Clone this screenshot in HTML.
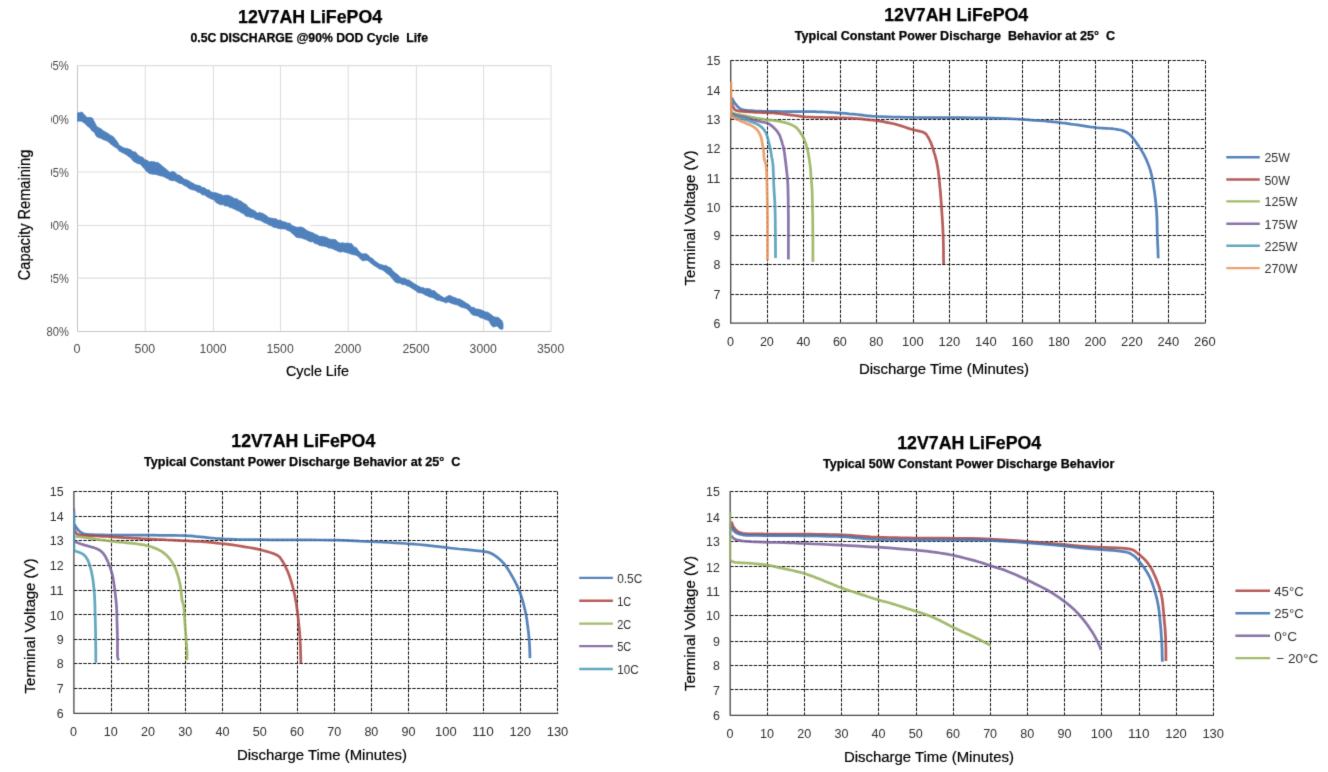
<!DOCTYPE html>
<html><head><meta charset="utf-8"><title>12V7AH LiFePO4</title>
<style>
html,body{margin:0;padding:0;background:#fff;}
body{width:1328px;height:772px;overflow:hidden;}
svg{display:block;font-family:'Liberation Sans', sans-serif;}
</style></head><body>
<svg width="1328" height="772" viewBox="0 0 1328 772">
<defs><filter id="soft" color-interpolation-filters="sRGB" x="0" y="0" width="1328" height="772" filterUnits="userSpaceOnUse"><feConvolveMatrix order="3" kernelMatrix="0.012 0.086 0.012 0.086 0.608 0.086 0.012 0.086 0.012" edgeMode="duplicate" preserveAlpha="true"/></filter></defs>
<rect width="1328" height="772" fill="#fff"/>
<g filter="url(#soft)">
<rect width="1328" height="772" fill="#fff"/>
<g id="chart1">
<text x="310.10" y="23.00" font-size="18" text-anchor="middle" fill="#000" font-weight="bold" textLength="144.00" lengthAdjust="spacingAndGlyphs" stroke="#000" stroke-width="0.25" >12V7AH LiFePO4</text>
<text x="309.20" y="42.00" font-size="12.5" text-anchor="middle" fill="#000" font-weight="bold" textLength="237.50" lengthAdjust="spacingAndGlyphs" stroke="#000" stroke-width="0.25" xml:space="preserve">0.5C DISCHARGE @90% DOD Cycle&#160;&#160;Life</text>
<line x1="77.50" y1="65.6" x2="77.50" y2="331.4" stroke="#c6c6c6" stroke-width="1.05"/>
<line x1="145.30" y1="65.6" x2="145.30" y2="331.4" stroke="#dddddd" stroke-width="1.05"/>
<line x1="213.40" y1="65.6" x2="213.40" y2="331.4" stroke="#dddddd" stroke-width="1.05"/>
<line x1="280.50" y1="65.6" x2="280.50" y2="331.4" stroke="#dddddd" stroke-width="1.05"/>
<line x1="348.20" y1="65.6" x2="348.20" y2="331.4" stroke="#dddddd" stroke-width="1.05"/>
<line x1="416.40" y1="65.6" x2="416.40" y2="331.4" stroke="#dddddd" stroke-width="1.05"/>
<line x1="483.60" y1="65.6" x2="483.60" y2="331.4" stroke="#dddddd" stroke-width="1.05"/>
<line x1="551.00" y1="65.6" x2="551.00" y2="331.4" stroke="#dddddd" stroke-width="1.05"/>
<line x1="77.5" y1="65.60" x2="551.05" y2="65.60" stroke="#dddddd" stroke-width="1.05"/>
<line x1="77.5" y1="119.00" x2="551.05" y2="119.00" stroke="#dddddd" stroke-width="1.05"/>
<line x1="77.5" y1="172.00" x2="551.05" y2="172.00" stroke="#dddddd" stroke-width="1.05"/>
<line x1="77.5" y1="225.40" x2="551.05" y2="225.40" stroke="#dddddd" stroke-width="1.05"/>
<line x1="77.5" y1="278.10" x2="551.05" y2="278.10" stroke="#dddddd" stroke-width="1.05"/>
<line x1="77.5" y1="331.40" x2="551.05" y2="331.40" stroke="#c6c6c6" stroke-width="1.05"/>
<rect x="290" y="223.6" width="20" height="3.2" fill="#fff"/>
<clipPath id="c1clip"><rect x="51" y="50" width="30" height="262"/></clipPath>
<g clip-path="url(#c1clip)">
<text x="68.80" y="70.40" font-size="12.6" text-anchor="end" fill="#4a4a4a" textLength="29.00" lengthAdjust="spacingAndGlyphs" >105%</text>
<text x="68.80" y="123.80" font-size="12.6" text-anchor="end" fill="#4a4a4a" textLength="29.00" lengthAdjust="spacingAndGlyphs" >100%</text>
<text x="68.80" y="176.80" font-size="12.6" text-anchor="end" fill="#4a4a4a" textLength="22.30" lengthAdjust="spacingAndGlyphs" >95%</text>
<text x="68.80" y="230.20" font-size="12.6" text-anchor="end" fill="#4a4a4a" textLength="22.30" lengthAdjust="spacingAndGlyphs" >90%</text>
<text x="68.80" y="282.90" font-size="12.6" text-anchor="end" fill="#4a4a4a" textLength="22.30" lengthAdjust="spacingAndGlyphs" >85%</text>
</g>
<text x="68.80" y="336.20" font-size="12.6" text-anchor="end" fill="#4a4a4a" textLength="22.30" lengthAdjust="spacingAndGlyphs" >80%</text>
<text x="77.10" y="352.60" font-size="12.8" text-anchor="middle" fill="#4a4a4a" textLength="7.00" lengthAdjust="spacingAndGlyphs" >0</text>
<text x="144.90" y="352.60" font-size="12.8" text-anchor="middle" fill="#4a4a4a" textLength="20.60" lengthAdjust="spacingAndGlyphs" >500</text>
<text x="213.00" y="352.60" font-size="12.8" text-anchor="middle" fill="#4a4a4a" textLength="27.20" lengthAdjust="spacingAndGlyphs" >1000</text>
<text x="280.10" y="352.60" font-size="12.8" text-anchor="middle" fill="#4a4a4a" textLength="27.20" lengthAdjust="spacingAndGlyphs" >1500</text>
<text x="347.80" y="352.60" font-size="12.8" text-anchor="middle" fill="#4a4a4a" textLength="27.20" lengthAdjust="spacingAndGlyphs" >2000</text>
<text x="416.00" y="352.60" font-size="12.8" text-anchor="middle" fill="#4a4a4a" textLength="27.20" lengthAdjust="spacingAndGlyphs" >2500</text>
<text x="483.20" y="352.60" font-size="12.8" text-anchor="middle" fill="#4a4a4a" textLength="27.20" lengthAdjust="spacingAndGlyphs" >3000</text>
<text x="550.60" y="352.60" font-size="12.8" text-anchor="middle" fill="#4a4a4a" textLength="27.20" lengthAdjust="spacingAndGlyphs" >3500</text>
<text x="317.50" y="376.00" font-size="15" text-anchor="middle" fill="#000" textLength="63.00" lengthAdjust="spacingAndGlyphs" stroke="#000" stroke-width="0.2" >Cycle Life</text>
<text x="30.00" y="215.00" font-size="16" text-anchor="middle" fill="#000" textLength="130.50" lengthAdjust="spacingAndGlyphs" transform="rotate(-90 30.00 215.00)" stroke="#000" stroke-width="0.2" >Capacity Remaining</text>
<polygon points="77.5,113.0 78.7,112.6 79.8,112.7 81.0,112.2 82.1,112.1 83.3,113.6 84.4,114.7 85.6,116.1 86.7,117.3 87.9,117.6 89.0,117.3 90.2,117.6 91.3,117.8 92.5,118.1 93.6,120.6 94.8,122.6 95.9,124.9 97.1,126.9 98.2,127.3 99.4,128.1 100.5,128.4 101.7,129.2 102.8,130.4 104.0,131.2 105.1,131.7 106.3,132.5 107.4,133.1 108.6,133.8 109.7,134.8 110.9,135.4 112.0,136.1 113.2,136.6 114.3,137.9 115.5,139.5 116.6,141.0 117.8,142.6 118.9,144.8 120.1,145.7 121.2,146.3 122.4,147.2 123.5,147.4 124.7,148.2 125.8,148.3 127.0,148.4 128.1,149.0 129.3,149.1 130.4,149.6 131.6,150.4 132.7,151.3 133.9,152.1 135.0,151.8 136.2,152.6 137.3,154.4 138.5,155.3 139.6,156.1 140.8,157.0 141.9,156.8 143.1,157.6 144.2,159.1 145.4,159.9 146.5,160.0 147.7,160.4 148.8,161.7 150.0,162.0 151.1,161.4 152.3,161.7 153.4,161.7 154.6,161.7 155.7,162.4 156.9,162.4 158.0,162.5 159.2,163.6 160.3,164.3 161.5,165.3 162.6,166.3 163.8,167.3 164.9,168.2 166.1,169.1 167.2,170.1 168.4,171.0 169.5,172.1 170.7,172.2 171.8,171.6 173.0,171.7 174.1,171.8 175.3,172.6 176.4,174.1 177.6,174.9 178.7,174.8 179.9,175.6 181.0,176.4 182.2,177.1 183.3,178.5 184.5,179.2 185.6,179.3 186.8,179.9 187.9,180.3 189.1,181.0 190.2,181.8 191.4,182.4 192.5,183.0 193.7,183.4 194.8,184.5 196.0,185.0 197.1,185.0 198.3,185.5 199.4,185.5 200.6,186.0 201.7,187.2 202.9,187.8 204.0,187.6 205.2,188.2 206.3,189.3 207.5,189.8 208.6,189.8 209.8,190.4 210.9,191.8 212.1,192.3 213.2,192.4 214.4,192.7 215.5,192.6 216.7,193.0 217.8,193.5 219.0,193.9 220.1,194.2 221.3,194.6 222.4,195.3 223.6,195.7 224.7,195.3 225.9,195.3 227.0,195.2 228.2,195.2 229.3,195.8 230.5,196.2 231.6,196.8 232.8,197.4 233.9,198.3 235.1,198.9 236.2,198.5 237.4,199.0 238.5,200.1 239.7,200.7 240.8,201.0 242.0,201.7 243.1,202.8 244.3,203.5 245.4,204.0 246.6,204.8 247.7,206.5 248.9,207.6 250.0,208.3 251.2,209.3 252.3,209.5 253.5,210.2 254.6,210.8 255.8,211.5 256.9,213.0 258.1,213.1 259.2,212.5 260.4,212.6 261.5,213.2 262.7,213.3 263.8,214.0 265.0,214.8 266.1,215.4 267.3,216.2 268.4,217.5 269.6,217.8 270.7,218.0 271.9,218.2 273.0,218.5 274.2,218.8 275.3,218.6 276.5,219.0 277.6,219.9 278.8,220.3 279.9,220.1 281.1,220.5 282.2,221.3 283.4,221.7 284.5,221.8 285.7,222.3 286.8,222.7 288.0,223.2 289.1,223.1 290.3,223.5 291.4,225.1 292.6,225.7 293.7,226.0 294.9,226.6 296.0,227.2 297.2,227.3 298.3,227.1 299.5,227.2 300.6,226.9 301.8,227.2 302.9,227.7 304.0,228.2 305.2,229.3 306.3,229.9 307.5,230.7 308.6,231.3 309.8,231.8 310.9,232.3 312.1,232.5 313.2,233.1 314.4,233.7 315.5,234.3 316.7,234.7 317.8,235.3 319.0,236.3 320.1,236.6 321.3,236.3 322.4,236.5 323.6,236.6 324.7,237.0 325.9,237.2 327.0,237.6 328.2,238.6 329.3,238.9 330.5,239.2 331.6,239.4 332.8,239.3 333.9,239.6 335.1,239.5 336.2,240.2 337.4,241.7 338.5,242.4 339.7,242.9 340.8,243.2 342.0,242.8 343.1,242.9 344.3,243.2 345.4,243.3 346.6,243.1 347.7,243.1 348.9,243.5 350.0,243.5 351.2,243.4 352.3,244.4 353.5,246.2 354.6,247.2 355.8,247.2 356.9,248.3 358.1,250.3 359.2,251.5 360.4,252.5 361.5,253.7 362.7,253.8 363.8,253.9 365.0,253.7 366.1,253.8 367.3,254.4 368.4,255.2 369.6,256.7 370.7,257.7 371.9,258.0 373.0,259.0 374.2,260.4 375.3,261.2 376.5,262.0 377.6,262.8 378.8,263.7 379.9,264.2 381.1,264.5 382.2,265.0 383.4,265.2 384.5,265.6 385.7,265.4 386.8,265.8 388.0,266.9 389.1,267.2 390.3,267.6 391.4,268.7 392.6,270.4 393.7,271.5 394.9,272.6 396.0,273.5 397.2,274.2 398.3,275.1 399.5,276.6 400.6,277.4 401.8,277.9 402.9,278.4 404.1,277.9 405.2,278.4 406.4,279.4 407.5,279.9 408.7,280.0 409.8,280.5 411.0,281.5 412.1,282.2 413.3,283.0 414.4,283.8 415.6,284.3 416.7,285.1 417.9,285.8 419.0,286.4 420.2,286.9 421.3,287.5 422.5,287.6 423.6,287.7 424.8,288.6 425.9,288.7 427.1,288.4 428.2,288.5 429.4,288.8 430.5,289.2 431.7,290.3 432.8,290.7 434.0,290.5 435.1,291.3 436.3,292.6 437.4,293.5 438.6,294.2 439.7,294.9 440.9,296.0 442.0,296.6 443.2,297.3 444.3,298.0 445.5,297.3 446.6,296.8 447.8,296.1 448.9,295.6 450.1,295.6 451.2,296.0 452.4,296.7 453.5,297.1 454.7,297.5 455.8,297.9 457.0,298.5 458.1,299.1 459.3,298.8 460.4,299.4 461.6,300.1 462.7,300.6 463.9,301.6 465.0,302.2 466.2,303.0 467.3,303.8 468.5,304.1 469.6,305.1 470.8,306.6 471.9,307.5 473.1,307.2 474.2,307.5 475.4,308.7 476.5,309.0 477.7,308.9 478.8,309.3 480.0,309.6 481.1,310.0 482.3,310.4 483.4,310.8 484.6,311.6 485.7,312.1 486.9,311.9 488.0,312.4 489.2,313.2 490.3,313.9 491.5,314.8 492.6,315.9 493.8,316.8 494.9,317.0 496.1,317.2 497.2,317.3 498.4,317.5 499.5,318.4 500.7,319.4 501.8,320.5 503.0,323.6 503.0,328.8 501.8,329.3 500.7,329.1 499.5,328.8 498.4,327.2 497.2,326.1 496.1,326.2 494.9,326.5 493.8,327.1 492.6,326.4 491.5,325.4 490.3,323.6 489.2,321.3 488.0,320.3 486.9,320.1 485.7,319.6 484.6,319.3 483.4,318.6 482.3,318.1 481.1,318.1 480.0,317.5 478.8,316.6 477.7,316.0 476.5,315.9 475.4,315.5 474.2,315.4 473.1,314.9 471.9,314.5 470.8,313.3 469.6,311.6 468.5,310.4 467.3,309.4 466.2,308.5 465.0,308.2 463.9,307.8 462.7,307.7 461.6,307.3 460.4,306.7 459.3,306.2 458.1,305.3 457.0,304.8 455.8,304.8 454.7,304.3 453.5,304.1 452.4,303.7 451.2,303.2 450.1,302.8 448.9,302.1 447.8,302.1 446.6,302.8 445.5,302.8 444.3,302.1 443.2,301.7 442.0,301.3 440.9,301.0 439.7,300.6 438.6,300.2 437.4,300.4 436.3,299.8 435.1,298.9 434.0,298.3 432.8,297.7 431.7,297.2 430.5,297.4 429.4,296.9 428.2,296.3 427.1,295.8 425.9,295.4 424.8,294.8 423.6,294.1 422.5,293.5 421.3,293.1 420.2,292.9 419.0,292.8 417.9,292.5 416.7,291.5 415.6,290.6 414.4,289.9 413.3,289.0 412.1,288.4 411.0,287.7 409.8,286.9 408.7,286.3 407.5,286.1 406.4,285.5 405.2,284.7 404.1,284.5 402.9,284.5 401.8,284.3 400.6,283.4 399.5,282.9 398.3,283.3 397.2,282.8 396.0,282.3 394.9,281.8 393.7,280.3 392.6,279.0 391.4,277.6 390.3,276.3 389.1,275.0 388.0,274.1 386.8,273.5 385.7,272.6 384.5,271.4 383.4,270.6 382.2,269.9 381.1,269.2 379.9,269.3 378.8,268.6 377.6,267.7 376.5,267.1 375.3,266.3 374.2,265.7 373.0,264.7 371.9,263.8 370.7,263.1 369.6,262.1 368.4,261.0 367.3,260.3 366.1,260.3 365.0,260.2 363.8,260.8 362.7,260.7 361.5,260.0 360.4,259.1 359.2,257.6 358.1,256.6 356.9,255.7 355.8,255.1 354.6,255.1 353.5,254.6 352.3,254.6 351.2,254.2 350.0,253.5 348.9,253.3 347.7,252.9 346.6,252.7 345.4,252.3 344.3,252.1 343.1,251.8 342.0,251.5 340.8,252.2 339.7,251.9 338.5,251.4 337.4,251.1 336.2,250.3 335.1,250.0 333.9,249.3 332.8,248.9 331.6,248.5 330.5,248.1 329.3,248.2 328.2,247.8 327.0,246.9 325.9,246.6 324.7,246.5 323.6,246.1 322.4,246.1 321.3,245.9 320.1,245.4 319.0,245.2 317.8,244.4 316.7,243.8 315.5,243.8 314.4,243.2 313.2,241.9 312.1,241.4 310.9,242.1 309.8,241.7 308.6,240.9 307.5,240.6 306.3,239.8 305.2,239.2 304.0,239.1 302.9,238.5 301.8,238.1 300.6,237.9 299.5,237.8 298.3,237.7 297.2,237.3 296.0,237.2 294.9,235.8 293.7,234.6 292.6,234.0 291.4,232.8 290.3,231.5 289.1,231.1 288.0,230.5 286.8,230.1 285.7,229.3 284.5,228.9 283.4,228.9 282.2,228.8 281.1,228.9 279.9,228.7 278.8,228.6 277.6,228.3 276.5,227.8 275.3,227.5 274.2,227.4 273.0,227.0 271.9,226.2 270.7,225.6 269.6,225.3 268.4,224.7 267.3,223.8 266.1,223.2 265.0,223.1 263.8,222.5 262.7,221.6 261.5,221.1 260.4,220.6 259.2,220.1 258.1,220.0 256.9,219.6 255.8,219.2 254.6,218.8 253.5,217.5 252.3,217.2 251.2,217.5 250.0,217.1 248.9,216.8 247.7,216.5 246.6,216.4 245.4,215.9 244.3,214.3 243.1,213.6 242.0,213.2 240.8,212.5 239.7,211.6 238.5,211.0 237.4,210.7 236.2,210.1 235.1,209.5 233.9,208.9 232.8,208.4 231.6,207.8 230.5,207.8 229.3,207.3 228.2,206.3 227.0,205.9 225.9,206.1 224.7,205.8 223.6,204.9 222.4,204.6 221.3,204.9 220.1,204.5 219.0,204.1 217.8,203.4 216.7,202.9 215.5,202.1 214.4,200.3 213.2,199.5 212.1,199.3 210.9,198.7 209.8,198.3 208.6,197.7 207.5,197.0 206.3,196.5 205.2,195.2 204.0,194.8 202.9,195.0 201.7,194.5 200.6,193.0 199.4,192.4 198.3,192.5 197.1,191.8 196.0,190.8 194.8,190.5 193.7,190.1 192.5,189.8 191.4,189.6 190.2,189.1 189.1,188.5 187.9,187.8 186.8,186.7 185.6,186.1 184.5,185.7 183.3,184.9 182.2,184.1 181.0,183.4 179.9,183.5 178.7,183.0 177.6,182.2 176.4,181.7 175.3,181.0 174.1,180.5 173.0,180.8 171.8,180.6 170.7,180.3 169.5,180.0 168.4,179.1 167.2,178.4 166.1,177.9 164.9,177.2 163.8,176.8 162.6,176.3 161.5,176.1 160.3,175.9 159.2,175.4 158.0,175.1 156.9,174.7 155.7,174.5 154.6,174.3 153.4,174.2 152.3,174.2 151.1,173.8 150.0,173.8 148.8,173.2 147.7,172.1 146.5,171.5 145.4,169.9 144.2,168.5 143.1,167.4 141.9,165.9 140.8,164.4 139.6,164.1 138.5,163.8 137.3,163.5 136.2,162.8 135.0,162.1 133.9,161.7 132.7,160.5 131.6,158.9 130.4,157.8 129.3,156.9 128.1,156.2 127.0,155.2 125.8,154.5 124.7,153.9 123.5,153.1 122.4,152.8 121.2,152.0 120.1,151.5 118.9,150.7 117.8,149.0 116.6,148.1 115.5,147.6 114.3,146.7 113.2,145.8 112.0,144.9 110.9,144.2 109.7,143.2 108.6,141.9 107.4,141.3 106.3,140.7 105.1,140.3 104.0,139.8 102.8,139.4 101.7,138.8 100.5,138.1 99.4,138.0 98.2,137.3 97.1,137.0 95.9,135.6 94.8,133.2 93.6,131.7 92.5,131.2 91.3,130.0 90.2,128.3 89.0,127.2 87.9,126.6 86.7,125.4 85.6,124.1 84.4,123.2 83.3,122.4 82.1,121.6 81.0,121.1 79.8,121.1 78.7,121.2 77.5,121.2" fill="#4f81bd" stroke="#4f81bd" stroke-width="0.8" stroke-linejoin="round"/>
</g>
<g id="chart2">
<line x1="767.5" y1="60.60" x2="767.5" y2="323.00" stroke="#101010" stroke-width="1" stroke-dasharray="3.4 1.3"/>
<line x1="803.5" y1="60.60" x2="803.5" y2="323.00" stroke="#101010" stroke-width="1" stroke-dasharray="3.4 1.3"/>
<line x1="840.5" y1="60.60" x2="840.5" y2="323.00" stroke="#101010" stroke-width="1" stroke-dasharray="3.4 1.3"/>
<line x1="876.5" y1="60.60" x2="876.5" y2="323.00" stroke="#101010" stroke-width="1" stroke-dasharray="3.4 1.3"/>
<line x1="913.5" y1="60.60" x2="913.5" y2="323.00" stroke="#101010" stroke-width="1" stroke-dasharray="3.4 1.3"/>
<line x1="949.5" y1="60.60" x2="949.5" y2="323.00" stroke="#101010" stroke-width="1" stroke-dasharray="3.4 1.3"/>
<line x1="986.5" y1="60.60" x2="986.5" y2="323.00" stroke="#101010" stroke-width="1" stroke-dasharray="3.4 1.3"/>
<line x1="1022.5" y1="60.60" x2="1022.5" y2="323.00" stroke="#101010" stroke-width="1" stroke-dasharray="3.4 1.3"/>
<line x1="1059.5" y1="60.60" x2="1059.5" y2="323.00" stroke="#101010" stroke-width="1" stroke-dasharray="3.4 1.3"/>
<line x1="1095.5" y1="60.60" x2="1095.5" y2="323.00" stroke="#101010" stroke-width="1" stroke-dasharray="3.4 1.3"/>
<line x1="1132.5" y1="60.60" x2="1132.5" y2="323.00" stroke="#101010" stroke-width="1" stroke-dasharray="3.4 1.3"/>
<line x1="1168.5" y1="60.60" x2="1168.5" y2="323.00" stroke="#101010" stroke-width="1" stroke-dasharray="3.4 1.3"/>
<line x1="1205.5" y1="60.60" x2="1205.5" y2="323.00" stroke="#101010" stroke-width="1" stroke-dasharray="3.4 1.3"/>
<line x1="730.70" y1="60.5" x2="1205.10" y2="60.5" stroke="#101010" stroke-width="1" stroke-dasharray="3.4 1.3"/>
<line x1="730.70" y1="90.5" x2="1205.10" y2="90.5" stroke="#101010" stroke-width="1" stroke-dasharray="3.4 1.3"/>
<line x1="730.70" y1="119.5" x2="1205.10" y2="119.5" stroke="#101010" stroke-width="1" stroke-dasharray="3.4 1.3"/>
<line x1="730.70" y1="148.5" x2="1205.10" y2="148.5" stroke="#101010" stroke-width="1" stroke-dasharray="3.4 1.3"/>
<line x1="730.70" y1="178.5" x2="1205.10" y2="178.5" stroke="#101010" stroke-width="1" stroke-dasharray="3.4 1.3"/>
<line x1="730.70" y1="206.5" x2="1205.10" y2="206.5" stroke="#101010" stroke-width="1" stroke-dasharray="3.4 1.3"/>
<line x1="730.70" y1="235.5" x2="1205.10" y2="235.5" stroke="#101010" stroke-width="1" stroke-dasharray="3.4 1.3"/>
<line x1="730.70" y1="264.5" x2="1205.10" y2="264.5" stroke="#101010" stroke-width="1" stroke-dasharray="3.4 1.3"/>
<line x1="730.70" y1="294.5" x2="1205.10" y2="294.5" stroke="#101010" stroke-width="1" stroke-dasharray="3.4 1.3"/>
<path d="M730.70,60.10 V323.20 H1205.60" fill="none" stroke="#474747" stroke-width="1.3" stroke-linejoin="round"/>
<polyline points="731.6,97.5 731.7,97.7 731.9,98.0 732.0,98.4 732.3,98.8 732.5,99.3 732.8,99.8 733.1,100.4 733.5,101.1 733.9,101.8 734.4,102.5 734.9,103.3 735.4,104.0 736.0,104.7 736.6,105.4 737.2,106.2 737.9,106.9 738.7,107.5 739.5,108.1 740.2,108.6 740.9,109.0 741.6,109.3 742.5,109.6 743.8,109.9 745.7,110.2 748.2,110.5 751.1,110.7 754.5,110.9 758.2,111.0 762.2,111.2 766.4,111.3 771.1,111.4 776.5,111.4 782.1,111.5 787.8,111.5 793.0,111.5 797.5,111.5 801.2,111.5 804.4,111.6 807.3,111.6 809.9,111.6 812.4,111.6 815.0,111.7 817.5,111.8 819.9,111.8 822.1,111.9 824.5,112.0 827.0,112.1 830.0,112.3 833.4,112.5 837.2,112.8 841.1,113.1 845.2,113.4 849.3,113.8 853.3,114.1 857.0,114.5 860.6,114.9 864.2,115.4 868.0,115.8 872.0,116.2 876.6,116.5 881.8,116.7 887.4,116.9 893.4,117.1 899.5,117.2 905.6,117.3 911.6,117.4 917.2,117.5 922.6,117.5 927.9,117.5 933.6,117.5 939.7,117.5 946.6,117.6 954.6,117.7 963.5,117.7 973.0,117.8 982.5,117.9 991.7,118.1 1000.0,118.3 1007.7,118.6 1015.1,119.0 1022.2,119.4 1028.7,119.9 1034.7,120.3 1040.0,120.7 1044.4,121.0 1047.8,121.3 1050.7,121.6 1053.3,121.9 1055.8,122.2 1058.7,122.5 1061.8,122.9 1064.9,123.2 1068.0,123.6 1071.1,124.1 1074.2,124.5 1077.3,124.9 1080.4,125.3 1083.5,125.8 1086.6,126.3 1089.8,126.8 1092.9,127.2 1096.0,127.6 1099.2,127.9 1102.5,128.1 1105.9,128.3 1109.1,128.5 1112.0,128.7 1114.6,129.0 1116.7,129.3 1118.5,129.6 1120.0,129.8 1121.4,130.2 1122.7,130.6 1124.0,131.1 1125.3,131.7 1126.5,132.3 1127.7,133.0 1128.8,133.8 1129.9,134.7 1131.0,135.8 1132.2,137.1 1133.3,138.5 1134.5,140.0 1135.7,141.7 1136.8,143.4 1138.0,145.1 1139.2,146.9 1140.4,148.7 1141.6,150.6 1142.8,152.6 1143.9,154.6 1145.0,156.8 1146.1,159.1 1147.1,161.5 1148.1,164.0 1149.1,166.6 1150.0,169.2 1150.8,172.0 1151.5,174.9 1152.2,177.9 1152.8,180.9 1153.3,184.1 1153.8,187.3 1154.3,190.6 1154.8,193.9 1155.2,197.3 1155.6,200.8 1156.0,204.3 1156.3,207.9 1156.6,211.6 1156.8,215.5 1157.0,219.6 1157.1,223.8 1157.1,227.9 1157.2,231.7 1157.3,234.9 1157.4,237.5 1157.5,239.7 1157.6,241.5 1157.6,243.1 1157.7,244.8 1157.8,246.6 1157.9,248.7 1158.0,250.9 1158.0,253.1 1158.1,255.2 1158.2,256.9 1158.2,258.2" fill="none" stroke="#3f72b0" stroke-width="2.75" stroke-linejoin="round" stroke-linecap="butt" stroke-opacity="0.87"/>
<polyline points="731.6,102.0 731.8,102.6 732.0,103.5 732.3,104.5 732.6,105.6 733.0,106.7 733.5,107.5 733.9,108.2 734.1,108.8 734.4,109.3 734.9,109.8 735.9,110.3 737.4,110.7 739.6,111.1 742.5,111.4 745.7,111.6 749.2,111.9 752.7,112.1 756.1,112.3 759.4,112.5 762.9,112.6 766.3,112.7 769.8,112.9 773.3,113.0 776.8,113.3 780.4,113.7 784.1,114.1 787.8,114.6 791.4,115.1 794.6,115.5 797.5,115.9 799.6,116.2 801.1,116.4 802.3,116.6 803.6,116.7 805.3,116.9 807.9,117.0 811.5,117.1 816.0,117.3 820.8,117.4 825.8,117.5 830.6,117.6 834.8,117.7 838.3,117.8 841.4,117.8 844.3,117.9 847.1,118.0 850.0,118.1 853.3,118.3 857.0,118.6 860.9,118.9 864.9,119.3 869.0,119.8 872.9,120.2 876.6,120.7 880.0,121.2 883.3,121.7 886.4,122.3 889.4,122.9 892.4,123.5 895.3,124.2 898.2,125.0 901.1,125.9 903.9,126.8 906.6,127.7 909.2,128.6 911.6,129.3 913.9,129.9 916.1,130.4 918.2,130.8 920.1,131.3 921.8,131.7 923.3,132.3 924.5,132.9 925.4,133.5 926.1,134.2 926.7,134.9 927.3,135.9 928.0,137.0 928.8,138.3 929.5,139.8 930.3,141.4 931.1,143.3 931.8,145.3 932.6,147.5 933.4,150.0 934.2,152.8 935.1,155.7 935.9,158.8 936.7,161.9 937.3,165.0 937.8,168.0 938.3,170.9 938.6,173.9 939.0,177.0 939.3,180.2 939.6,183.6 939.9,187.2 940.3,190.8 940.6,194.7 940.9,198.6 941.2,202.7 941.5,206.9 941.8,211.3 942.1,215.8 942.4,220.5 942.7,225.3 942.9,230.1 943.1,234.9 943.3,240.0 943.4,245.6 943.5,251.3 943.5,256.5 943.6,260.9 943.6,264.1" fill="none" stroke="#ae4644" stroke-width="2.75" stroke-linejoin="round" stroke-linecap="butt" stroke-opacity="0.87"/>
<polyline points="731.5,112.5 731.9,112.6 732.3,112.8 732.8,113.0 733.5,113.3 734.3,113.5 735.4,113.8 736.7,114.1 738.4,114.4 740.1,114.8 742.0,115.2 743.9,115.5 745.7,115.9 747.4,116.3 749.2,116.6 750.9,117.0 752.6,117.3 754.4,117.7 756.1,118.0 757.8,118.3 759.5,118.6 761.2,118.9 763.0,119.2 764.7,119.5 766.4,119.7 768.2,119.9 769.9,120.1 771.7,120.2 773.5,120.4 775.2,120.6 776.8,120.8 778.3,121.1 779.8,121.3 781.2,121.6 782.6,122.0 783.9,122.3 785.1,122.6 786.3,122.9 787.4,123.2 788.4,123.6 789.4,123.9 790.3,124.3 791.3,124.7 792.2,125.1 793.1,125.6 794.0,126.1 794.9,126.6 795.7,127.2 796.5,127.8 797.3,128.5 798.0,129.4 798.7,130.3 799.3,131.2 800.0,132.1 800.6,133.0 801.2,133.9 801.7,134.7 802.3,135.5 802.8,136.4 803.2,137.3 803.7,138.2 804.1,139.2 804.5,140.2 804.9,141.3 805.3,142.3 805.7,143.4 806.0,144.5 806.3,145.5 806.6,146.4 806.9,147.2 807.2,148.2 807.5,149.5 807.8,151.0 808.2,153.0 808.6,155.3 809.0,157.9 809.4,160.6 809.8,163.1 810.1,165.3 810.3,167.2 810.5,168.8 810.6,170.3 810.7,171.8 810.8,173.5 810.9,175.4 811.1,177.5 811.3,179.7 811.5,182.1 811.7,184.7 811.9,187.4 812.1,190.5 812.2,193.9 812.3,197.7 812.4,201.6 812.5,205.7 812.5,209.9 812.6,214.1 812.7,218.3 812.7,222.7 812.8,227.1 812.8,231.6 812.9,235.9 812.9,240.0 812.9,244.2 812.9,248.5 812.9,252.7 812.9,256.5 812.9,259.7 812.9,262.1" fill="none" stroke="#95b158" stroke-width="2.75" stroke-linejoin="round" stroke-linecap="butt" stroke-opacity="0.87"/>
<polyline points="731.5,113.8 732.2,114.0 733.1,114.3 734.3,114.7 735.5,115.1 736.8,115.5 738.0,115.8 739.2,116.1 740.4,116.3 741.6,116.6 742.9,116.8 744.2,117.1 745.7,117.5 747.3,117.9 749.0,118.5 750.7,119.0 752.5,119.6 754.3,120.1 756.1,120.6 757.9,121.0 759.7,121.4 761.6,121.8 763.3,122.1 765.0,122.5 766.4,122.9 767.6,123.3 768.5,123.7 769.3,124.2 770.1,124.6 770.8,125.2 771.6,125.8 772.5,126.5 773.4,127.3 774.3,128.2 775.2,129.1 776.1,130.0 776.8,130.9 777.4,131.7 778.0,132.6 778.5,133.4 779.0,134.2 779.5,135.1 779.9,136.1 780.3,137.1 780.7,138.3 781.1,139.4 781.5,140.6 781.9,141.8 782.2,143.0 782.5,144.1 782.8,145.1 783.1,146.0 783.4,147.1 783.7,148.4 784.0,150.1 784.3,152.1 784.7,154.5 785.0,157.1 785.3,159.8 785.7,162.6 786.0,165.3 786.3,167.9 786.6,170.5 786.9,173.1 787.2,175.8 787.5,178.8 787.7,182.1 787.9,185.8 788.0,189.8 788.1,194.1 788.2,198.5 788.2,203.0 788.3,207.4 788.3,211.9 788.4,216.5 788.4,221.2 788.4,225.9 788.4,230.5 788.4,235.0 788.4,239.6 788.4,244.3 788.4,249.0 788.4,253.3 788.4,257.0 788.4,259.6" fill="none" stroke="#7a609b" stroke-width="2.75" stroke-linejoin="round" stroke-linecap="butt" stroke-opacity="0.87"/>
<polyline points="731.5,115.5 732.2,115.7 733.2,116.0 734.3,116.4 735.6,116.8 736.8,117.2 738.0,117.6 739.2,117.9 740.3,118.3 741.5,118.6 742.7,118.9 743.9,119.3 745.0,119.6 746.0,119.9 747.0,120.2 747.9,120.5 748.9,120.9 749.9,121.2 750.9,121.6 752.0,122.0 753.3,122.5 754.5,123.0 755.8,123.5 757.0,124.1 758.1,124.7 759.1,125.3 760.1,126.0 761.0,126.7 761.8,127.4 762.6,128.1 763.3,128.9 763.9,129.7 764.5,130.5 765.0,131.3 765.5,132.1 766.0,133.0 766.4,134.0 766.8,135.1 767.2,136.3 767.5,137.5 767.9,138.8 768.2,140.1 768.5,141.3 768.8,142.5 769.1,143.7 769.4,144.9 769.7,146.1 769.9,147.3 770.2,148.5 770.4,149.7 770.7,150.9 770.9,152.1 771.1,153.4 771.3,154.6 771.5,156.0 771.7,157.3 772.0,158.5 772.3,159.8 772.5,161.2 772.8,163.0 773.0,165.3 773.2,168.2 773.3,171.7 773.5,175.6 773.6,179.6 773.7,183.5 773.9,187.2 774.1,190.6 774.3,193.8 774.5,196.9 774.7,200.2 774.9,203.6 775.0,207.4 775.1,211.6 775.2,216.2 775.3,221.0 775.3,225.9 775.4,230.6 775.4,235.0 775.4,239.4 775.5,243.8 775.5,248.2 775.5,252.1 775.5,255.5 775.5,257.9" fill="none" stroke="#4d9bb7" stroke-width="2.75" stroke-linejoin="round" stroke-linecap="butt" stroke-opacity="0.87"/>
<polyline points="731.2,116.4 731.9,116.7 732.7,117.2 733.8,117.7 734.9,118.3 736.2,118.9 737.4,119.5 738.7,120.1 740.1,120.7 741.5,121.4 743.0,122.0 744.4,122.6 745.7,123.2 746.9,123.7 748.0,124.1 749.1,124.5 750.1,124.9 751.0,125.4 751.9,125.8 752.7,126.3 753.5,126.8 754.2,127.3 754.9,127.8 755.5,128.3 756.1,128.9 756.7,129.5 757.3,130.2 757.8,130.8 758.3,131.5 758.8,132.2 759.2,133.0 759.6,133.8 760.0,134.6 760.4,135.4 760.7,136.3 761.0,137.2 761.3,138.2 761.6,139.3 761.8,140.5 762.0,141.7 762.2,143.0 762.4,144.2 762.6,145.4 762.8,146.5 763.0,147.6 763.2,148.7 763.4,149.8 763.6,150.9 763.7,152.0 763.8,153.1 763.8,154.2 763.9,155.2 763.9,156.3 764.0,157.4 764.1,158.5 764.3,159.5 764.7,160.5 765.0,161.5 765.4,162.5 765.7,163.8 766.0,165.3 766.2,167.0 766.4,168.7 766.5,170.6 766.6,172.9 766.7,175.5 766.8,178.7 766.9,182.6 767.0,187.2 767.1,192.2 767.2,197.3 767.3,202.5 767.4,207.4 767.4,212.1 767.5,216.8 767.5,221.4 767.5,226.0 767.5,230.5 767.5,235.0 767.5,239.7 767.5,244.6 767.5,249.5 767.5,254.0 767.5,257.8 767.5,260.5" fill="none" stroke="#e7955e" stroke-width="2.75" stroke-linejoin="round" stroke-linecap="butt" stroke-opacity="0.87"/>
<line x1="731.2" y1="98" x2="731.2" y2="116" stroke="#3f72b0" stroke-width="2.2" stroke-opacity="0.8"/>
<line x1="731.2" y1="81.7" x2="731.2" y2="118" stroke="#e7955e" stroke-width="2.2" stroke-opacity="0.95"/>
<text x="720.40" y="65.30" font-size="13.4" text-anchor="end" fill="#2f2f2f" textLength="13.80" lengthAdjust="spacingAndGlyphs" >15</text>
<text x="720.40" y="95.30" font-size="13.4" text-anchor="end" fill="#2f2f2f" textLength="13.80" lengthAdjust="spacingAndGlyphs" >14</text>
<text x="720.40" y="124.00" font-size="13.4" text-anchor="end" fill="#2f2f2f" textLength="13.80" lengthAdjust="spacingAndGlyphs" >13</text>
<text x="720.40" y="152.90" font-size="13.4" text-anchor="end" fill="#2f2f2f" textLength="13.80" lengthAdjust="spacingAndGlyphs" >12</text>
<text x="720.40" y="182.90" font-size="13.4" text-anchor="end" fill="#2f2f2f" textLength="13.80" lengthAdjust="spacingAndGlyphs" >11</text>
<text x="720.40" y="211.60" font-size="13.4" text-anchor="end" fill="#2f2f2f" textLength="13.80" lengthAdjust="spacingAndGlyphs" >10</text>
<text x="720.40" y="240.45" font-size="13.4" text-anchor="end" fill="#2f2f2f" textLength="6.90" lengthAdjust="spacingAndGlyphs" >9</text>
<text x="720.40" y="269.30" font-size="13.4" text-anchor="end" fill="#2f2f2f" textLength="6.90" lengthAdjust="spacingAndGlyphs" >8</text>
<text x="720.40" y="299.10" font-size="13.4" text-anchor="end" fill="#2f2f2f" textLength="6.90" lengthAdjust="spacingAndGlyphs" >7</text>
<text x="720.40" y="327.70" font-size="13.4" text-anchor="end" fill="#2f2f2f" textLength="6.90" lengthAdjust="spacingAndGlyphs" >6</text>
<text x="730.40" y="345.70" font-size="13.4" text-anchor="middle" fill="#2f2f2f" textLength="7.00" lengthAdjust="spacingAndGlyphs" >0</text>
<text x="766.89" y="345.70" font-size="13.4" text-anchor="middle" fill="#2f2f2f" textLength="14.00" lengthAdjust="spacingAndGlyphs" >20</text>
<text x="803.38" y="345.70" font-size="13.4" text-anchor="middle" fill="#2f2f2f" textLength="14.00" lengthAdjust="spacingAndGlyphs" >40</text>
<text x="839.88" y="345.70" font-size="13.4" text-anchor="middle" fill="#2f2f2f" textLength="14.00" lengthAdjust="spacingAndGlyphs" >60</text>
<text x="876.37" y="345.70" font-size="13.4" text-anchor="middle" fill="#2f2f2f" textLength="14.00" lengthAdjust="spacingAndGlyphs" >80</text>
<text x="912.86" y="345.70" font-size="13.4" text-anchor="middle" fill="#2f2f2f" textLength="21.60" lengthAdjust="spacingAndGlyphs" >100</text>
<text x="949.35" y="345.70" font-size="13.4" text-anchor="middle" fill="#2f2f2f" textLength="21.60" lengthAdjust="spacingAndGlyphs" >120</text>
<text x="985.85" y="345.70" font-size="13.4" text-anchor="middle" fill="#2f2f2f" textLength="21.60" lengthAdjust="spacingAndGlyphs" >140</text>
<text x="1022.34" y="345.70" font-size="13.4" text-anchor="middle" fill="#2f2f2f" textLength="21.60" lengthAdjust="spacingAndGlyphs" >160</text>
<text x="1058.83" y="345.70" font-size="13.4" text-anchor="middle" fill="#2f2f2f" textLength="21.60" lengthAdjust="spacingAndGlyphs" >180</text>
<text x="1095.32" y="345.70" font-size="13.4" text-anchor="middle" fill="#2f2f2f" textLength="21.60" lengthAdjust="spacingAndGlyphs" >200</text>
<text x="1131.82" y="345.70" font-size="13.4" text-anchor="middle" fill="#2f2f2f" textLength="21.60" lengthAdjust="spacingAndGlyphs" >220</text>
<text x="1168.31" y="345.70" font-size="13.4" text-anchor="middle" fill="#2f2f2f" textLength="21.60" lengthAdjust="spacingAndGlyphs" >240</text>
<text x="1204.80" y="345.70" font-size="13.4" text-anchor="middle" fill="#2f2f2f" textLength="21.60" lengthAdjust="spacingAndGlyphs" >260</text>
<text x="956.20" y="21.20" font-size="18" text-anchor="middle" fill="#000" font-weight="bold" textLength="144.00" lengthAdjust="spacingAndGlyphs" stroke="#000" stroke-width="0.25" >12V7AH LiFePO4</text>
<text x="955.00" y="40.10" font-size="12.5" text-anchor="middle" fill="#000" font-weight="bold" textLength="320.40" lengthAdjust="spacingAndGlyphs" stroke="#000" stroke-width="0.25" xml:space="preserve">Typical Constant Power Discharge&#160;&#160;Behavior at 25&#176;&#160;&#160;C</text>
<text x="943.90" y="373.60" font-size="15" text-anchor="middle" fill="#000" textLength="170.00" lengthAdjust="spacingAndGlyphs" stroke="#000" stroke-width="0.2" >Discharge Time (Minutes)</text>
<text x="694.90" y="217.90" font-size="15.5" text-anchor="middle" fill="#000" textLength="135.00" lengthAdjust="spacingAndGlyphs" transform="rotate(-90 694.90 217.90)" stroke="#000" stroke-width="0.2" >Terminal Voltage (V)</text>
<line x1="1226.3" y1="157.3" x2="1259.8" y2="157.3" stroke="#3f72b0" stroke-width="2.4" stroke-linecap="butt" stroke-opacity="0.88"/>
<text x="1264.50" y="162.30" font-size="13" text-anchor="start" fill="#2e2e2e" textLength="25.40" lengthAdjust="spacingAndGlyphs" >25W</text>
<line x1="1226.3" y1="179.5" x2="1259.8" y2="179.5" stroke="#ae4644" stroke-width="2.4" stroke-linecap="butt" stroke-opacity="0.88"/>
<text x="1264.50" y="184.50" font-size="13" text-anchor="start" fill="#2e2e2e" textLength="25.40" lengthAdjust="spacingAndGlyphs" >50W</text>
<line x1="1226.3" y1="201.4" x2="1259.8" y2="201.4" stroke="#95b158" stroke-width="2.4" stroke-linecap="butt" stroke-opacity="0.88"/>
<text x="1264.50" y="206.40" font-size="13" text-anchor="start" fill="#2e2e2e" textLength="32.90" lengthAdjust="spacingAndGlyphs" >125W</text>
<line x1="1226.3" y1="223.8" x2="1259.8" y2="223.8" stroke="#7a609b" stroke-width="2.4" stroke-linecap="butt" stroke-opacity="0.88"/>
<text x="1264.50" y="228.80" font-size="13" text-anchor="start" fill="#2e2e2e" textLength="32.90" lengthAdjust="spacingAndGlyphs" >175W</text>
<line x1="1226.3" y1="245.8" x2="1259.8" y2="245.8" stroke="#4d9bb7" stroke-width="2.4" stroke-linecap="butt" stroke-opacity="0.88"/>
<text x="1264.50" y="250.80" font-size="13" text-anchor="start" fill="#2e2e2e" textLength="32.90" lengthAdjust="spacingAndGlyphs" >225W</text>
<line x1="1226.3" y1="268.1" x2="1259.8" y2="268.1" stroke="#e7955e" stroke-width="2.4" stroke-linecap="butt" stroke-opacity="0.88"/>
<text x="1264.50" y="273.10" font-size="13" text-anchor="start" fill="#2e2e2e" textLength="32.90" lengthAdjust="spacingAndGlyphs" >270W</text>
</g>
<g id="chart3">
<line x1="111.5" y1="491.50" x2="111.5" y2="713.10" stroke="#101010" stroke-width="1" stroke-dasharray="3.4 1.3"/>
<line x1="148.5" y1="491.50" x2="148.5" y2="713.10" stroke="#101010" stroke-width="1" stroke-dasharray="3.4 1.3"/>
<line x1="185.5" y1="491.50" x2="185.5" y2="713.10" stroke="#101010" stroke-width="1" stroke-dasharray="3.4 1.3"/>
<line x1="222.5" y1="491.50" x2="222.5" y2="713.10" stroke="#101010" stroke-width="1" stroke-dasharray="3.4 1.3"/>
<line x1="260.5" y1="491.50" x2="260.5" y2="713.10" stroke="#101010" stroke-width="1" stroke-dasharray="3.4 1.3"/>
<line x1="297.5" y1="491.50" x2="297.5" y2="713.10" stroke="#101010" stroke-width="1" stroke-dasharray="3.4 1.3"/>
<line x1="334.5" y1="491.50" x2="334.5" y2="713.10" stroke="#101010" stroke-width="1" stroke-dasharray="3.4 1.3"/>
<line x1="371.5" y1="491.50" x2="371.5" y2="713.10" stroke="#101010" stroke-width="1" stroke-dasharray="3.4 1.3"/>
<line x1="408.5" y1="491.50" x2="408.5" y2="713.10" stroke="#101010" stroke-width="1" stroke-dasharray="3.4 1.3"/>
<line x1="446.5" y1="491.50" x2="446.5" y2="713.10" stroke="#101010" stroke-width="1" stroke-dasharray="3.4 1.3"/>
<line x1="483.5" y1="491.50" x2="483.5" y2="713.10" stroke="#101010" stroke-width="1" stroke-dasharray="3.4 1.3"/>
<line x1="520.5" y1="491.50" x2="520.5" y2="713.10" stroke="#101010" stroke-width="1" stroke-dasharray="3.4 1.3"/>
<line x1="557.5" y1="491.50" x2="557.5" y2="713.10" stroke="#101010" stroke-width="1" stroke-dasharray="3.4 1.3"/>
<line x1="73.90" y1="491.5" x2="557.80" y2="491.5" stroke="#101010" stroke-width="1" stroke-dasharray="3.4 1.3"/>
<line x1="73.90" y1="516.5" x2="557.80" y2="516.5" stroke="#101010" stroke-width="1" stroke-dasharray="3.4 1.3"/>
<line x1="73.90" y1="540.5" x2="557.80" y2="540.5" stroke="#101010" stroke-width="1" stroke-dasharray="3.4 1.3"/>
<line x1="73.90" y1="565.5" x2="557.80" y2="565.5" stroke="#101010" stroke-width="1" stroke-dasharray="3.4 1.3"/>
<line x1="73.90" y1="590.5" x2="557.80" y2="590.5" stroke="#101010" stroke-width="1" stroke-dasharray="3.4 1.3"/>
<line x1="73.90" y1="614.5" x2="557.80" y2="614.5" stroke="#101010" stroke-width="1" stroke-dasharray="3.4 1.3"/>
<line x1="73.90" y1="639.5" x2="557.80" y2="639.5" stroke="#101010" stroke-width="1" stroke-dasharray="3.4 1.3"/>
<line x1="73.90" y1="663.5" x2="557.80" y2="663.5" stroke="#101010" stroke-width="1" stroke-dasharray="3.4 1.3"/>
<line x1="73.90" y1="688.5" x2="557.80" y2="688.5" stroke="#101010" stroke-width="1" stroke-dasharray="3.4 1.3"/>
<path d="M73.90,491.00 V713.30 H558.30" fill="none" stroke="#474747" stroke-width="1.3" stroke-linejoin="round"/>
<polyline points="74.5,524.6 74.8,525.0 75.1,525.6 75.6,526.3 76.0,527.1 76.6,527.8 77.1,528.5 77.6,529.2 78.2,529.9 78.8,530.6 79.5,531.2 80.2,531.9 81.0,532.4 81.8,532.8 82.5,533.2 83.2,533.5 84.2,533.8 85.5,534.1 87.4,534.3 89.7,534.5 92.2,534.6 95.1,534.8 98.5,534.8 102.4,534.9 106.9,535.0 112.2,535.1 118.4,535.1 125.1,535.1 132.0,535.1 139.0,535.2 145.7,535.2 152.4,535.2 159.5,535.3 166.6,535.3 173.4,535.4 179.5,535.5 184.6,535.6 188.4,535.8 191.1,535.9 193.2,536.1 195.0,536.4 197.1,536.6 200.0,536.9 203.5,537.2 207.3,537.6 211.3,538.0 215.6,538.4 220.1,538.7 225.0,539.0 229.8,539.2 234.6,539.3 239.7,539.5 245.4,539.5 252.0,539.6 260.0,539.7 270.0,539.8 282.0,539.8 295.0,539.9 308.0,539.9 320.0,540.0 330.0,540.1 337.9,540.2 344.3,540.4 349.7,540.6 354.6,540.8 359.6,541.1 365.0,541.3 370.9,541.6 377.0,541.9 383.0,542.2 388.9,542.5 394.6,542.9 400.0,543.2 405.0,543.5 409.6,543.8 414.1,544.2 418.4,544.5 422.8,544.9 427.2,545.3 431.7,545.8 436.3,546.3 440.8,546.9 445.3,547.4 449.9,548.0 454.4,548.5 459.1,549.0 464.1,549.4 469.0,549.9 473.7,550.3 478.0,550.8 481.6,551.2 484.3,551.6 486.4,551.9 488.0,552.2 489.4,552.6 490.8,553.2 492.4,554.0 494.2,555.1 496.1,556.4 498.0,557.9 499.9,559.5 501.6,561.1 503.3,562.9 504.8,564.7 506.2,566.6 507.6,568.6 508.9,570.7 510.2,572.9 511.5,575.2 512.9,577.7 514.3,580.2 515.7,582.9 517.1,585.7 518.4,588.6 519.6,591.5 520.7,594.5 521.7,597.7 522.7,601.0 523.6,604.3 524.4,607.5 525.1,610.5 525.7,613.4 526.2,616.1 526.7,618.8 527.1,621.5 527.4,624.1 527.8,626.8 528.1,629.5 528.5,632.3 528.7,635.0 529.0,637.8 529.2,640.5 529.4,643.1 529.6,645.8 529.7,648.8 529.8,651.6 529.9,654.3 529.9,656.5 530.0,658.1" fill="none" stroke="#3f72b0" stroke-width="2.75" stroke-linejoin="round" stroke-linecap="butt" stroke-opacity="0.87"/>
<polyline points="74.6,528.0 74.7,528.5 74.8,529.2 74.9,530.0 75.1,530.9 75.4,531.7 75.8,532.4 76.2,533.0 76.5,533.4 76.9,533.9 77.6,534.3 78.9,534.7 81.0,535.0 84.1,535.3 88.1,535.6 92.7,535.8 97.5,536.0 102.3,536.3 106.9,536.5 111.2,536.8 115.5,537.1 119.9,537.4 124.2,537.7 128.5,537.9 132.8,538.2 137.1,538.4 141.4,538.7 145.8,538.9 150.1,539.1 154.4,539.3 158.7,539.5 163.1,539.7 167.7,540.0 172.3,540.2 176.7,540.4 180.9,540.6 184.6,540.8 187.8,540.9 190.6,541.1 193.1,541.2 195.4,541.3 197.7,541.4 200.0,541.5 202.2,541.7 204.2,541.8 206.2,542.0 208.2,542.2 210.5,542.4 213.3,542.7 216.6,543.1 220.4,543.5 224.4,543.9 228.5,544.4 232.7,544.9 236.7,545.5 240.7,546.1 244.7,546.8 248.8,547.5 252.8,548.2 256.5,548.9 260.0,549.7 263.2,550.5 266.3,551.3 269.2,552.2 271.9,553.0 274.3,553.9 276.3,554.8 277.9,555.7 279.0,556.5 279.9,557.3 280.5,558.2 281.2,559.3 282.1,560.6 283.1,562.2 284.1,564.0 285.1,565.9 286.1,568.0 287.1,570.1 288.0,572.3 288.9,574.5 289.7,576.7 290.4,579.0 291.2,581.4 291.9,583.8 292.6,586.3 293.3,588.9 293.9,591.5 294.5,594.2 295.1,596.9 295.6,599.7 296.1,602.6 296.6,605.6 297.0,608.7 297.4,611.8 297.8,615.0 298.2,618.2 298.5,621.3 298.8,624.4 299.1,627.4 299.4,630.4 299.7,633.4 299.9,636.6 300.1,640.0 300.3,643.9 300.5,648.3 300.6,652.8 300.7,657.1 300.8,660.7 300.9,663.3" fill="none" stroke="#ae4644" stroke-width="2.75" stroke-linejoin="round" stroke-linecap="butt" stroke-opacity="0.87"/>
<polyline points="75.8,536.3 77.8,536.6 80.4,537.0 83.6,537.4 87.1,537.9 90.6,538.4 93.9,538.9 97.1,539.3 100.3,539.8 103.5,540.2 106.8,540.7 110.0,541.1 113.3,541.5 116.6,541.9 120.0,542.2 123.5,542.5 126.8,542.8 129.9,543.1 132.8,543.4 135.4,543.7 137.7,544.0 139.8,544.3 141.8,544.6 143.8,544.9 145.7,545.3 147.6,545.8 149.4,546.3 151.2,546.8 152.9,547.4 154.5,548.0 156.1,548.6 157.6,549.3 158.9,549.9 160.2,550.6 161.5,551.4 162.7,552.2 163.9,553.1 165.1,554.1 166.2,555.1 167.3,556.1 168.4,557.3 169.4,558.4 170.3,559.6 171.2,560.8 172.0,562.1 172.8,563.3 173.5,564.7 174.2,566.0 174.9,567.4 175.5,568.8 176.1,570.2 176.6,571.7 177.1,573.2 177.6,574.7 178.1,576.4 178.6,578.2 179.1,580.1 179.5,582.1 180.0,584.1 180.3,586.1 180.7,588.1 181.0,590.1 181.2,592.2 181.4,594.2 181.6,596.2 181.8,598.0 182.0,599.7 182.3,601.0 182.6,601.9 182.9,602.7 183.2,603.6 183.5,604.8 183.8,606.5 184.0,608.8 184.2,611.5 184.4,614.6 184.6,617.8 184.8,621.0 185.0,624.0 185.2,627.0 185.4,630.1 185.7,633.2 185.9,636.2 186.1,639.0 186.2,641.5 186.4,643.6 186.6,645.4 186.7,647.0 186.8,648.5 186.9,650.0 187.0,651.5 187.0,653.1 187.1,654.8 187.0,656.5 187.0,658.1 187.0,659.4 187.0,660.3" fill="none" stroke="#95b158" stroke-width="2.75" stroke-linejoin="round" stroke-linecap="butt" stroke-opacity="0.87"/>
<polyline points="74.5,541.5 75.2,541.8 76.1,542.1 77.2,542.6 78.4,543.1 79.7,543.5 81.0,544.0 82.4,544.4 83.9,544.9 85.4,545.3 87.0,545.7 88.5,546.2 90.0,546.6 91.4,547.0 92.8,547.4 94.1,547.8 95.4,548.2 96.7,548.7 97.8,549.2 98.8,549.7 99.8,550.3 100.6,550.9 101.5,551.6 102.2,552.3 103.0,553.1 103.7,554.0 104.4,555.0 105.1,556.1 105.7,557.2 106.3,558.4 106.9,559.6 107.5,560.8 108.0,562.1 108.6,563.3 109.1,564.7 109.6,566.0 110.1,567.4 110.6,568.8 111.0,570.2 111.5,571.7 111.9,573.2 112.3,574.7 112.7,576.4 113.1,578.2 113.4,580.1 113.7,582.1 114.0,584.1 114.3,586.1 114.6,588.1 114.9,590.1 115.1,592.1 115.3,594.1 115.5,596.1 115.7,598.0 115.9,599.7 116.1,601.2 116.2,602.5 116.3,603.7 116.4,605.0 116.5,606.4 116.6,608.0 116.7,609.9 116.8,611.9 116.8,614.0 116.9,616.3 116.9,618.8 117.0,621.5 117.1,624.5 117.2,627.9 117.3,631.4 117.4,635.0 117.4,638.4 117.5,641.5 117.5,644.4 117.5,647.3 117.5,650.0 117.5,652.5 117.5,654.7 117.6,656.5 117.8,657.8 118.0,658.7 118.2,659.3 118.4,659.7 118.7,660.0 118.8,660.3" fill="none" stroke="#7a609b" stroke-width="2.75" stroke-linejoin="round" stroke-linecap="butt" stroke-opacity="0.87"/>
<polyline points="74.6,550.3 74.7,550.4 74.8,550.5 74.9,550.6 75.1,550.8 75.4,551.0 75.8,551.2 76.5,551.5 77.3,551.7 78.2,552.0 79.2,552.4 80.2,552.7 81.0,553.1 81.7,553.5 82.4,553.8 83.0,554.2 83.6,554.6 84.2,555.1 84.8,555.7 85.4,556.4 86.0,557.1 86.5,558.0 87.1,558.9 87.6,559.9 88.1,560.9 88.6,562.0 89.0,563.3 89.5,564.6 89.9,565.9 90.3,567.3 90.7,568.7 91.1,570.1 91.4,571.6 91.7,573.0 92.0,574.6 92.3,576.1 92.6,577.7 92.9,579.3 93.1,581.0 93.3,582.7 93.5,584.5 93.7,586.3 93.9,588.1 94.1,589.9 94.2,591.7 94.4,593.5 94.5,595.4 94.6,597.5 94.7,599.7 94.8,602.1 94.9,604.6 95.0,607.3 95.0,610.1 95.1,613.2 95.2,616.5 95.3,620.2 95.4,624.4 95.5,628.7 95.6,633.1 95.6,637.5 95.7,641.5 95.7,645.5 95.8,649.7 95.8,653.7 95.8,657.4 95.8,660.5 95.8,662.8" fill="none" stroke="#4d9bb7" stroke-width="2.75" stroke-linejoin="round" stroke-linecap="butt" stroke-opacity="0.87"/>
<line x1="74.3" y1="508.5" x2="74.3" y2="540" stroke="#7a609b" stroke-width="1.8" stroke-opacity="0.8"/>
<line x1="74.3" y1="511.7" x2="74.3" y2="550.5" stroke="#4d9bb7" stroke-width="2.0" stroke-opacity="0.85"/>
<text x="63.60" y="496.20" font-size="13.4" text-anchor="end" fill="#2f2f2f" textLength="13.80" lengthAdjust="spacingAndGlyphs" >15</text>
<text x="63.60" y="520.80" font-size="13.4" text-anchor="end" fill="#2f2f2f" textLength="13.80" lengthAdjust="spacingAndGlyphs" >14</text>
<text x="63.60" y="545.35" font-size="13.4" text-anchor="end" fill="#2f2f2f" textLength="13.80" lengthAdjust="spacingAndGlyphs" >13</text>
<text x="63.60" y="570.10" font-size="13.4" text-anchor="end" fill="#2f2f2f" textLength="13.80" lengthAdjust="spacingAndGlyphs" >12</text>
<text x="63.60" y="594.80" font-size="13.4" text-anchor="end" fill="#2f2f2f" textLength="13.80" lengthAdjust="spacingAndGlyphs" >11</text>
<text x="63.60" y="619.50" font-size="13.4" text-anchor="end" fill="#2f2f2f" textLength="13.80" lengthAdjust="spacingAndGlyphs" >10</text>
<text x="63.60" y="644.00" font-size="13.4" text-anchor="end" fill="#2f2f2f" textLength="6.90" lengthAdjust="spacingAndGlyphs" >9</text>
<text x="63.60" y="668.40" font-size="13.4" text-anchor="end" fill="#2f2f2f" textLength="6.90" lengthAdjust="spacingAndGlyphs" >8</text>
<text x="63.60" y="693.30" font-size="13.4" text-anchor="end" fill="#2f2f2f" textLength="6.90" lengthAdjust="spacingAndGlyphs" >7</text>
<text x="63.60" y="717.90" font-size="13.4" text-anchor="end" fill="#2f2f2f" textLength="6.90" lengthAdjust="spacingAndGlyphs" >6</text>
<text x="73.60" y="735.80" font-size="13.4" text-anchor="middle" fill="#2f2f2f" textLength="7.00" lengthAdjust="spacingAndGlyphs" >0</text>
<text x="110.82" y="735.80" font-size="13.4" text-anchor="middle" fill="#2f2f2f" textLength="14.00" lengthAdjust="spacingAndGlyphs" >10</text>
<text x="148.05" y="735.80" font-size="13.4" text-anchor="middle" fill="#2f2f2f" textLength="14.00" lengthAdjust="spacingAndGlyphs" >20</text>
<text x="185.27" y="735.80" font-size="13.4" text-anchor="middle" fill="#2f2f2f" textLength="14.00" lengthAdjust="spacingAndGlyphs" >30</text>
<text x="222.49" y="735.80" font-size="13.4" text-anchor="middle" fill="#2f2f2f" textLength="14.00" lengthAdjust="spacingAndGlyphs" >40</text>
<text x="259.72" y="735.80" font-size="13.4" text-anchor="middle" fill="#2f2f2f" textLength="14.00" lengthAdjust="spacingAndGlyphs" >50</text>
<text x="296.94" y="735.80" font-size="13.4" text-anchor="middle" fill="#2f2f2f" textLength="14.00" lengthAdjust="spacingAndGlyphs" >60</text>
<text x="334.16" y="735.80" font-size="13.4" text-anchor="middle" fill="#2f2f2f" textLength="14.00" lengthAdjust="spacingAndGlyphs" >70</text>
<text x="371.38" y="735.80" font-size="13.4" text-anchor="middle" fill="#2f2f2f" textLength="14.00" lengthAdjust="spacingAndGlyphs" >80</text>
<text x="408.61" y="735.80" font-size="13.4" text-anchor="middle" fill="#2f2f2f" textLength="14.00" lengthAdjust="spacingAndGlyphs" >90</text>
<text x="445.83" y="735.80" font-size="13.4" text-anchor="middle" fill="#2f2f2f" textLength="21.60" lengthAdjust="spacingAndGlyphs" >100</text>
<text x="483.05" y="735.80" font-size="13.4" text-anchor="middle" fill="#2f2f2f" textLength="21.60" lengthAdjust="spacingAndGlyphs" >110</text>
<text x="520.28" y="735.80" font-size="13.4" text-anchor="middle" fill="#2f2f2f" textLength="21.60" lengthAdjust="spacingAndGlyphs" >120</text>
<text x="557.50" y="735.80" font-size="13.4" text-anchor="middle" fill="#2f2f2f" textLength="21.60" lengthAdjust="spacingAndGlyphs" >130</text>
<text x="303.30" y="446.80" font-size="18" text-anchor="middle" fill="#000" font-weight="bold" textLength="144.00" lengthAdjust="spacingAndGlyphs" stroke="#000" stroke-width="0.25" >12V7AH LiFePO4</text>
<text x="302.20" y="466.40" font-size="12.5" text-anchor="middle" fill="#000" font-weight="bold" textLength="316.40" lengthAdjust="spacingAndGlyphs" stroke="#000" stroke-width="0.25" xml:space="preserve">Typical Constant Power Discharge Behavior at 25&#176;&#160;&#160;C</text>
<text x="321.90" y="759.70" font-size="15" text-anchor="middle" fill="#000" textLength="170.00" lengthAdjust="spacingAndGlyphs" stroke="#000" stroke-width="0.2" >Discharge Time (Minutes)</text>
<text x="35.50" y="625.90" font-size="15.5" text-anchor="middle" fill="#000" textLength="135.00" lengthAdjust="spacingAndGlyphs" transform="rotate(-90 35.50 625.90)" stroke="#000" stroke-width="0.2" >Terminal Voltage (V)</text>
<line x1="579.2" y1="577.9" x2="612.9" y2="577.9" stroke="#3f72b0" stroke-width="2.4" stroke-linecap="butt" stroke-opacity="0.88"/>
<text x="617.20" y="582.90" font-size="13" text-anchor="start" fill="#2e2e2e" textLength="25.00" lengthAdjust="spacingAndGlyphs" >0.5C</text>
<line x1="579.2" y1="600.7" x2="612.9" y2="600.7" stroke="#ae4644" stroke-width="2.4" stroke-linecap="butt" stroke-opacity="0.88"/>
<text x="617.20" y="605.70" font-size="13" text-anchor="start" fill="#2e2e2e" textLength="14.00" lengthAdjust="spacingAndGlyphs" >1C</text>
<line x1="579.2" y1="623.6" x2="612.9" y2="623.6" stroke="#95b158" stroke-width="2.4" stroke-linecap="butt" stroke-opacity="0.88"/>
<text x="617.20" y="628.60" font-size="13" text-anchor="start" fill="#2e2e2e" textLength="14.00" lengthAdjust="spacingAndGlyphs" >2C</text>
<line x1="579.2" y1="646.1" x2="612.9" y2="646.1" stroke="#7a609b" stroke-width="2.4" stroke-linecap="butt" stroke-opacity="0.88"/>
<text x="617.20" y="651.10" font-size="13" text-anchor="start" fill="#2e2e2e" textLength="14.00" lengthAdjust="spacingAndGlyphs" >5C</text>
<line x1="579.2" y1="669.0" x2="612.9" y2="669.0" stroke="#4d9bb7" stroke-width="2.4" stroke-linecap="butt" stroke-opacity="0.88"/>
<text x="617.20" y="674.00" font-size="13" text-anchor="start" fill="#2e2e2e" textLength="21.40" lengthAdjust="spacingAndGlyphs" >10C</text>
</g>
<g id="chart4">
<line x1="767.5" y1="491.50" x2="767.5" y2="715.10" stroke="#101010" stroke-width="1" stroke-dasharray="3.4 1.3"/>
<line x1="804.5" y1="491.50" x2="804.5" y2="715.10" stroke="#101010" stroke-width="1" stroke-dasharray="3.4 1.3"/>
<line x1="841.5" y1="491.50" x2="841.5" y2="715.10" stroke="#101010" stroke-width="1" stroke-dasharray="3.4 1.3"/>
<line x1="878.5" y1="491.50" x2="878.5" y2="715.10" stroke="#101010" stroke-width="1" stroke-dasharray="3.4 1.3"/>
<line x1="916.5" y1="491.50" x2="916.5" y2="715.10" stroke="#101010" stroke-width="1" stroke-dasharray="3.4 1.3"/>
<line x1="953.5" y1="491.50" x2="953.5" y2="715.10" stroke="#101010" stroke-width="1" stroke-dasharray="3.4 1.3"/>
<line x1="990.5" y1="491.50" x2="990.5" y2="715.10" stroke="#101010" stroke-width="1" stroke-dasharray="3.4 1.3"/>
<line x1="1027.5" y1="491.50" x2="1027.5" y2="715.10" stroke="#101010" stroke-width="1" stroke-dasharray="3.4 1.3"/>
<line x1="1064.5" y1="491.50" x2="1064.5" y2="715.10" stroke="#101010" stroke-width="1" stroke-dasharray="3.4 1.3"/>
<line x1="1101.5" y1="491.50" x2="1101.5" y2="715.10" stroke="#101010" stroke-width="1" stroke-dasharray="3.4 1.3"/>
<line x1="1139.5" y1="491.50" x2="1139.5" y2="715.10" stroke="#101010" stroke-width="1" stroke-dasharray="3.4 1.3"/>
<line x1="1176.5" y1="491.50" x2="1176.5" y2="715.10" stroke="#101010" stroke-width="1" stroke-dasharray="3.4 1.3"/>
<line x1="1213.5" y1="491.50" x2="1213.5" y2="715.10" stroke="#101010" stroke-width="1" stroke-dasharray="3.4 1.3"/>
<line x1="730.20" y1="491.5" x2="1213.50" y2="491.5" stroke="#101010" stroke-width="1" stroke-dasharray="3.4 1.3"/>
<line x1="730.20" y1="517.5" x2="1213.50" y2="517.5" stroke="#101010" stroke-width="1" stroke-dasharray="3.4 1.3"/>
<line x1="730.20" y1="541.5" x2="1213.50" y2="541.5" stroke="#101010" stroke-width="1" stroke-dasharray="3.4 1.3"/>
<line x1="730.20" y1="566.5" x2="1213.50" y2="566.5" stroke="#101010" stroke-width="1" stroke-dasharray="3.4 1.3"/>
<line x1="730.20" y1="591.5" x2="1213.50" y2="591.5" stroke="#101010" stroke-width="1" stroke-dasharray="3.4 1.3"/>
<line x1="730.20" y1="615.5" x2="1213.50" y2="615.5" stroke="#101010" stroke-width="1" stroke-dasharray="3.4 1.3"/>
<line x1="730.20" y1="641.5" x2="1213.50" y2="641.5" stroke="#101010" stroke-width="1" stroke-dasharray="3.4 1.3"/>
<line x1="730.20" y1="665.5" x2="1213.50" y2="665.5" stroke="#101010" stroke-width="1" stroke-dasharray="3.4 1.3"/>
<line x1="730.20" y1="689.5" x2="1213.50" y2="689.5" stroke="#101010" stroke-width="1" stroke-dasharray="3.4 1.3"/>
<path d="M730.20,491.00 V715.30 H1214.00" fill="none" stroke="#474747" stroke-width="1.3" stroke-linejoin="round"/>
<polyline points="731.6,521.5 731.7,522.0 731.8,522.6 732.0,523.3 732.2,524.1 732.5,524.9 732.8,525.7 733.2,526.4 733.7,527.2 734.2,528.0 734.8,528.7 735.4,529.4 736.0,530.0 736.6,530.5 737.2,531.0 737.8,531.5 738.5,531.9 739.4,532.3 740.5,532.6 741.4,532.9 742.0,533.1 742.8,533.3 744.2,533.5 746.8,533.7 751.0,533.8 757.4,533.9 765.7,534.0 775.1,534.0 784.9,534.0 794.3,534.0 802.7,534.1 810.1,534.2 817.1,534.3 823.8,534.4 830.1,534.5 836.0,534.6 841.6,534.8 846.8,535.1 851.5,535.4 855.9,535.8 860.0,536.1 863.8,536.4 867.5,536.7 870.8,536.9 873.5,537.0 876.1,537.1 878.6,537.2 881.5,537.3 885.0,537.4 888.7,537.5 892.4,537.6 896.5,537.7 901.2,537.8 906.9,537.9 914.0,538.0 923.0,538.1 933.7,538.1 945.4,538.2 957.5,538.3 969.2,538.4 980.0,538.7 989.7,539.1 999.0,539.6 1007.9,540.1 1016.7,540.7 1025.5,541.3 1034.4,542.0 1043.7,542.7 1053.1,543.6 1062.6,544.4 1071.9,545.3 1080.7,546.1 1088.8,546.7 1096.4,547.1 1103.7,547.4 1110.6,547.6 1116.8,547.8 1122.3,548.1 1126.9,548.6 1130.3,549.2 1132.5,549.8 1134.1,550.5 1135.2,551.3 1136.3,552.3 1137.8,553.5 1139.6,554.9 1141.5,556.5 1143.4,558.2 1145.3,560.1 1147.0,562.2 1148.7,564.4 1150.3,566.8 1151.8,569.4 1153.2,572.2 1154.5,575.1 1155.8,577.9 1156.9,580.7 1157.9,583.4 1158.9,586.0 1159.7,588.7 1160.5,591.4 1161.2,594.1 1161.8,597.0 1162.3,600.0 1162.7,603.1 1163.0,606.2 1163.3,609.4 1163.6,612.7 1163.9,616.1 1164.2,619.5 1164.5,623.1 1164.9,626.7 1165.2,630.4 1165.4,634.1 1165.6,637.8 1165.7,641.8 1165.8,646.3 1165.9,650.8 1165.9,654.9 1165.9,658.5 1165.9,661.0" fill="none" stroke="#ae4644" stroke-width="2.75" stroke-linejoin="round" stroke-linecap="butt" stroke-opacity="0.87"/>
<polyline points="731.6,526.0 731.7,526.4 731.8,527.0 732.0,527.6 732.2,528.3 732.5,529.0 732.8,529.6 733.2,530.1 733.7,530.7 734.2,531.2 734.8,531.7 735.4,532.2 736.0,532.6 736.6,533.0 737.2,533.3 737.8,533.6 738.5,533.8 739.4,534.1 740.5,534.3 741.4,534.5 742.0,534.7 742.8,534.9 744.2,535.1 746.8,535.3 751.0,535.4 757.4,535.5 765.7,535.6 775.1,535.6 784.9,535.7 794.3,535.7 802.7,535.8 810.1,535.9 817.1,536.0 823.8,536.1 830.1,536.3 836.0,536.5 841.6,536.7 846.8,537.0 851.5,537.4 855.9,537.8 860.0,538.2 863.8,538.6 867.5,538.9 870.5,539.1 872.6,539.3 874.5,539.4 876.8,539.5 880.1,539.6 885.0,539.7 892.0,539.8 900.8,539.9 910.5,540.0 920.6,540.1 930.3,540.1 939.0,540.2 946.4,540.2 953.1,540.1 959.5,540.0 965.8,540.0 972.5,540.0 980.0,540.2 988.3,540.5 997.1,540.9 1006.4,541.4 1015.8,542.0 1025.2,542.6 1034.4,543.3 1043.7,544.1 1053.3,545.0 1063.0,546.0 1072.3,546.9 1081.0,547.8 1088.8,548.6 1095.8,549.2 1102.1,549.7 1107.9,550.1 1113.0,550.4 1117.6,550.8 1121.5,551.3 1124.6,551.8 1126.9,552.2 1128.5,552.7 1129.8,553.3 1131.0,553.9 1132.4,554.8 1133.9,555.8 1135.3,557.0 1136.6,558.4 1137.9,559.8 1139.2,561.3 1140.5,563.0 1141.9,564.8 1143.3,566.7 1144.8,568.8 1146.2,570.9 1147.5,573.0 1148.7,575.2 1149.8,577.4 1150.8,579.5 1151.7,581.7 1152.5,584.0 1153.3,586.4 1154.1,588.8 1154.9,591.3 1155.6,594.0 1156.3,596.7 1157.0,599.4 1157.6,602.3 1158.2,605.2 1158.7,608.2 1159.1,611.3 1159.5,614.5 1159.8,617.8 1160.1,621.0 1160.4,624.2 1160.7,627.4 1161.0,630.6 1161.2,633.8 1161.4,637.0 1161.6,640.2 1161.8,643.3 1161.9,646.6 1162.1,650.2 1162.1,653.7 1162.2,657.0 1162.3,659.8 1162.3,661.8" fill="none" stroke="#3f72b0" stroke-width="2.75" stroke-linejoin="round" stroke-linecap="butt" stroke-opacity="0.87"/>
<polyline points="731.5,536.0 731.8,536.3 732.1,536.7 732.5,537.2 733.0,537.7 733.5,538.2 734.0,538.6 734.5,538.9 734.9,539.1 735.3,539.4 735.9,539.6 736.8,539.8 738.0,540.0 739.4,540.3 740.7,540.6 742.4,540.9 744.5,541.2 747.3,541.4 751.0,541.7 756.2,541.9 762.7,542.1 770.0,542.3 777.2,542.5 783.8,542.6 789.0,542.8 792.4,542.9 794.4,543.0 795.8,543.1 797.2,543.2 799.2,543.3 802.7,543.5 807.7,543.7 813.6,544.0 820.3,544.2 827.4,544.5 834.6,544.9 841.6,545.2 848.6,545.6 855.8,545.9 863.1,546.3 870.5,546.8 877.8,547.2 885.0,547.7 892.2,548.2 899.6,548.8 906.9,549.4 914.0,550.0 920.6,550.6 926.5,551.2 931.6,551.8 936.1,552.4 940.0,553.0 943.8,553.6 947.5,554.2 951.5,555.0 955.7,555.9 960.0,556.9 964.3,558.0 968.6,559.1 972.7,560.2 976.5,561.2 980.2,562.3 983.7,563.4 987.1,564.5 990.3,565.6 993.3,566.6 996.0,567.5 998.2,568.2 999.8,568.6 1001.1,569.0 1002.6,569.4 1004.5,570.1 1007.2,571.2 1010.9,572.7 1015.3,574.6 1020.1,576.8 1025.1,579.0 1030.0,581.3 1034.4,583.4 1038.4,585.4 1042.2,587.4 1045.8,589.3 1049.3,591.3 1052.8,593.4 1056.2,595.6 1059.6,597.9 1062.9,600.3 1066.2,602.8 1069.4,605.4 1072.4,608.0 1075.2,610.6 1077.8,613.3 1080.3,616.0 1082.7,618.8 1084.9,621.6 1086.9,624.3 1088.8,626.9 1090.5,629.4 1092.1,631.8 1093.5,634.1 1094.8,636.4 1095.9,638.5 1097.0,640.5 1098.0,642.4 1098.8,644.4 1099.6,646.1 1100.2,647.8 1100.7,649.1 1101.1,650.1" fill="none" stroke="#7a609b" stroke-width="2.75" stroke-linejoin="round" stroke-linecap="butt" stroke-opacity="0.87"/>
<polyline points="731.3,560.2 731.4,560.4 731.6,560.6 731.8,561.0 732.1,561.3 732.5,561.6 733.0,561.8 733.5,562.0 734.1,562.1 734.8,562.3 735.6,562.4 736.7,562.5 738.0,562.6 739.7,562.7 741.6,562.8 743.8,562.9 746.1,563.0 748.5,563.1 751.0,563.3 753.6,563.5 756.3,563.8 759.2,564.1 762.1,564.4 764.9,564.8 767.7,565.2 770.3,565.7 772.8,566.2 775.3,566.7 777.9,567.3 780.5,567.9 783.3,568.5 786.3,569.2 789.5,569.8 792.8,570.5 796.1,571.3 799.4,572.1 802.7,573.0 805.9,574.0 809.2,575.1 812.5,576.3 815.7,577.6 819.0,578.8 822.2,580.1 825.4,581.4 828.7,582.7 831.9,584.0 835.1,585.4 838.4,586.7 841.6,587.9 844.8,589.1 848.1,590.2 851.4,591.3 854.6,592.3 857.8,593.4 861.0,594.4 864.2,595.4 867.4,596.5 870.6,597.5 873.6,598.5 876.5,599.3 879.0,600.1 880.9,600.7 882.3,601.0 883.4,601.3 884.7,601.6 886.4,602.0 889.0,602.8 892.7,603.9 897.2,605.3 902.3,606.9 907.4,608.6 912.3,610.1 916.5,611.5 920.0,612.6 923.0,613.6 925.7,614.5 928.4,615.5 931.1,616.5 934.0,617.8 937.2,619.2 940.5,620.8 943.8,622.6 947.2,624.3 950.6,626.1 954.0,627.8 957.4,629.3 960.8,630.9 964.2,632.5 967.6,634.0 970.9,635.5 974.0,637.0 977.1,638.5 980.4,640.1 983.5,641.7 986.4,643.2 988.7,644.4 990.5,645.3" fill="none" stroke="#95b158" stroke-width="2.75" stroke-linejoin="round" stroke-linecap="butt" stroke-opacity="0.87"/>
<line x1="730.6" y1="524" x2="730.6" y2="536" stroke="#3f72b0" stroke-width="1.8" stroke-opacity="0.7"/>
<line x1="730.5" y1="512" x2="730.5" y2="560.5" stroke="#95b158" stroke-width="1.7" stroke-opacity="0.8"/>
<text x="719.90" y="496.20" font-size="13.4" text-anchor="end" fill="#2f2f2f" textLength="13.80" lengthAdjust="spacingAndGlyphs" >15</text>
<text x="719.90" y="521.90" font-size="13.4" text-anchor="end" fill="#2f2f2f" textLength="13.80" lengthAdjust="spacingAndGlyphs" >14</text>
<text x="719.90" y="546.10" font-size="13.4" text-anchor="end" fill="#2f2f2f" textLength="13.80" lengthAdjust="spacingAndGlyphs" >13</text>
<text x="719.90" y="571.60" font-size="13.4" text-anchor="end" fill="#2f2f2f" textLength="13.80" lengthAdjust="spacingAndGlyphs" >12</text>
<text x="719.90" y="596.00" font-size="13.4" text-anchor="end" fill="#2f2f2f" textLength="13.80" lengthAdjust="spacingAndGlyphs" >11</text>
<text x="719.90" y="620.20" font-size="13.4" text-anchor="end" fill="#2f2f2f" textLength="13.80" lengthAdjust="spacingAndGlyphs" >10</text>
<text x="719.90" y="645.90" font-size="13.4" text-anchor="end" fill="#2f2f2f" textLength="6.90" lengthAdjust="spacingAndGlyphs" >9</text>
<text x="719.90" y="670.00" font-size="13.4" text-anchor="end" fill="#2f2f2f" textLength="6.90" lengthAdjust="spacingAndGlyphs" >8</text>
<text x="719.90" y="694.50" font-size="13.4" text-anchor="end" fill="#2f2f2f" textLength="6.90" lengthAdjust="spacingAndGlyphs" >7</text>
<text x="719.90" y="719.70" font-size="13.4" text-anchor="end" fill="#2f2f2f" textLength="6.90" lengthAdjust="spacingAndGlyphs" >6</text>
<text x="729.90" y="737.80" font-size="13.4" text-anchor="middle" fill="#2f2f2f" textLength="7.00" lengthAdjust="spacingAndGlyphs" >0</text>
<text x="767.08" y="737.80" font-size="13.4" text-anchor="middle" fill="#2f2f2f" textLength="14.00" lengthAdjust="spacingAndGlyphs" >10</text>
<text x="804.25" y="737.80" font-size="13.4" text-anchor="middle" fill="#2f2f2f" textLength="14.00" lengthAdjust="spacingAndGlyphs" >20</text>
<text x="841.43" y="737.80" font-size="13.4" text-anchor="middle" fill="#2f2f2f" textLength="14.00" lengthAdjust="spacingAndGlyphs" >30</text>
<text x="878.61" y="737.80" font-size="13.4" text-anchor="middle" fill="#2f2f2f" textLength="14.00" lengthAdjust="spacingAndGlyphs" >40</text>
<text x="915.78" y="737.80" font-size="13.4" text-anchor="middle" fill="#2f2f2f" textLength="14.00" lengthAdjust="spacingAndGlyphs" >50</text>
<text x="952.96" y="737.80" font-size="13.4" text-anchor="middle" fill="#2f2f2f" textLength="14.00" lengthAdjust="spacingAndGlyphs" >60</text>
<text x="990.14" y="737.80" font-size="13.4" text-anchor="middle" fill="#2f2f2f" textLength="14.00" lengthAdjust="spacingAndGlyphs" >70</text>
<text x="1027.32" y="737.80" font-size="13.4" text-anchor="middle" fill="#2f2f2f" textLength="14.00" lengthAdjust="spacingAndGlyphs" >80</text>
<text x="1064.49" y="737.80" font-size="13.4" text-anchor="middle" fill="#2f2f2f" textLength="14.00" lengthAdjust="spacingAndGlyphs" >90</text>
<text x="1101.67" y="737.80" font-size="13.4" text-anchor="middle" fill="#2f2f2f" textLength="21.60" lengthAdjust="spacingAndGlyphs" >100</text>
<text x="1138.85" y="737.80" font-size="13.4" text-anchor="middle" fill="#2f2f2f" textLength="21.60" lengthAdjust="spacingAndGlyphs" >110</text>
<text x="1176.02" y="737.80" font-size="13.4" text-anchor="middle" fill="#2f2f2f" textLength="21.60" lengthAdjust="spacingAndGlyphs" >120</text>
<text x="1213.20" y="737.80" font-size="13.4" text-anchor="middle" fill="#2f2f2f" textLength="21.60" lengthAdjust="spacingAndGlyphs" >130</text>
<text x="969.20" y="448.80" font-size="18" text-anchor="middle" fill="#000" font-weight="bold" textLength="144.00" lengthAdjust="spacingAndGlyphs" stroke="#000" stroke-width="0.25" >12V7AH LiFePO4</text>
<text x="968.70" y="468.40" font-size="12.5" text-anchor="middle" fill="#000" font-weight="bold" textLength="291.30" lengthAdjust="spacingAndGlyphs" stroke="#000" stroke-width="0.25" xml:space="preserve">Typical 50W Constant Power Discharge Behavior</text>
<text x="928.90" y="762.40" font-size="15" text-anchor="middle" fill="#000" textLength="170.00" lengthAdjust="spacingAndGlyphs" stroke="#000" stroke-width="0.2" >Discharge Time (Minutes)</text>
<text x="694.90" y="623.60" font-size="15.5" text-anchor="middle" fill="#000" textLength="135.00" lengthAdjust="spacingAndGlyphs" transform="rotate(-90 694.90 623.60)" stroke="#000" stroke-width="0.2" >Terminal Voltage (V)</text>
<line x1="1235.4" y1="590.8" x2="1270.1" y2="590.8" stroke="#ae4644" stroke-width="2.4" stroke-linecap="butt" stroke-opacity="0.88"/>
<text x="1274.30" y="595.80" font-size="13" text-anchor="start" fill="#2e2e2e" textLength="29.40" lengthAdjust="spacingAndGlyphs" >45&#176;C</text>
<line x1="1235.4" y1="613.3" x2="1270.1" y2="613.3" stroke="#3f72b0" stroke-width="2.4" stroke-linecap="butt" stroke-opacity="0.88"/>
<text x="1274.30" y="618.30" font-size="13" text-anchor="start" fill="#2e2e2e" textLength="29.40" lengthAdjust="spacingAndGlyphs" >25&#176;C</text>
<line x1="1235.4" y1="635.7" x2="1270.1" y2="635.7" stroke="#7a609b" stroke-width="2.4" stroke-linecap="butt" stroke-opacity="0.88"/>
<text x="1274.30" y="640.70" font-size="13" text-anchor="start" fill="#2e2e2e" textLength="22.80" lengthAdjust="spacingAndGlyphs" >0&#176;C</text>
<line x1="1235.4" y1="658.1" x2="1270.1" y2="658.1" stroke="#95b158" stroke-width="2.4" stroke-linecap="butt" stroke-opacity="0.88"/>
<text x="1276.30" y="663.10" font-size="13" text-anchor="start" fill="#2e2e2e" textLength="42.00" lengthAdjust="spacingAndGlyphs" >&#8722; 20&#176;C</text>
</g>
</g>
</svg>
</body></html>
